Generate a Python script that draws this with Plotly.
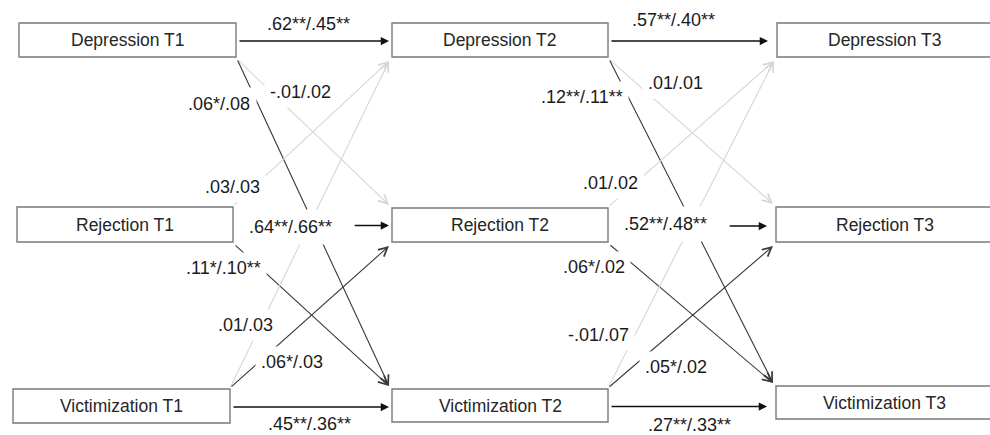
import plotly.graph_objects as go

# ---------------- data ----------------
node_names = ["Depression T1", "Rejection T1", "Victimization T1",
              "Depression T2", "Rejection T2", "Victimization T2",
              "Depression T3", "Rejection T3", "Victimization T3"]

path_source = ["Depression T1", "Rejection T1", "Victimization T1",
               "Depression T2", "Rejection T2", "Victimization T2",
               "Depression T1", "Depression T1", "Rejection T1",
               "Rejection T1", "Victimization T1", "Victimization T1",
               "Depression T2", "Depression T2", "Rejection T2",
               "Rejection T2", "Victimization T2", "Victimization T2"]
path_target = ["Depression T2", "Rejection T2", "Victimization T2",
               "Depression T3", "Rejection T3", "Victimization T3",
               "Rejection T2", "Victimization T2", "Depression T2",
               "Victimization T2", "Depression T2", "Rejection T2",
               "Rejection T3", "Victimization T3", "Depression T3",
               "Victimization T3", "Depression T3", "Rejection T3"]
path_labels = [".62**/.45**", ".64**/.66**", ".45**/.36**",
               ".57**/.40**", ".52**/.48**", ".27**/.33**",
               "-.01/.02", ".06*/.08", ".03/.03",
               ".11*/.10**", ".01/.03", ".06*/.03",
               ".01/.01", ".12**/.11**", ".01/.02",
               ".06*/.02", "-.01/.07", ".05*/.02"]

# ---------------- layout (pixel canvas) ----------------
W, H = 990, 435
BOX = {  # x0, y0, x1, y1
    "Depression T1": (19, 23, 236, 57),
    "Rejection T1": (17, 207, 233, 242),
    "Victimization T1": (13, 389, 230, 423),
    "Depression T2": (392, 23, 608, 57),
    "Rejection T2": (392, 208, 608, 242),
    "Victimization T2": (392, 389, 608, 422),
    "Depression T3": (777, 23, 993, 57),
    "Rejection T3": (776, 207, 993, 242),
    "Victimization T3": (776, 386, 993, 419),
}
ROW = {"Depression": 0, "Rejection": 1, "Victimization": 2}
LABEL_XY = [(308, 24), (290, 227), (309, 424),
            (673, 20), (665, 224), (689, 425),
            (300, 92), (219, 104), (232, 187),
            (223, 268), (245, 325), (292, 362),
            (675, 83), (582, 97), (610, 183),
            (594, 267), (598, 335), (676, 367)]
LABEL_PAD = [2, 7, 0, 2, 7, 0, 5, 6, 5, 5, 5, 5, 5, 5, 5, 5, 5, 5]
H_GAP = {"T2": 3, "T3": 9}

FONT = "Arial, Liberation Sans, sans-serif"
DARK = "#3a3a3a"
LIGHT = "#d6d6d6"

fig = go.Figure()
fig.add_trace(go.Scatter(x=[0, W], y=[0, H], mode="markers",
                         marker=dict(opacity=0), hoverinfo="skip", showlegend=False))

annotations = []
shapes = []

# arrows
for (src, tgt, lab), (lx, ly) in zip(zip(path_source, path_target, path_labels), LABEL_XY):
    sx0, sy0, sx1, sy1 = BOX[src]
    tx0, ty0, tx1, ty1 = BOX[tgt]
    rs, rt = ROW[src.split()[0]], ROW[tgt.split()[0]]
    if rs == rt:
        ym = (sy0 + sy1) / 2 + 1
        x_start = sx1 + 2
        if abs(ly - ym) < 8:  # label sits on the line: line starts after it
            x_start = max(x_start, lx + 4.2 * len(lab) + 17)
        start = (x_start, ym)
        end = (tx0 - H_GAP[tgt.split()[1]], ym)
        color, head, size, width = "#111111", 2, 1.1, 1.5
    else:
        if rt > rs:
            start = (sx1 + 1, sy1 + 2)
            end = (tx0 - 3, ty0 - 3)
        else:
            start = (sx1, sy0 - 1)
            end = (tx0 - 3, ty1 + 4)
        color = DARK if "*" in lab else LIGHT
        head, size, width = 5, 1.6, 1.1
    annotations.append(dict(
        x=end[0], y=end[1], ax=start[0], ay=start[1],
        xref="x", yref="y", axref="x", ayref="y",
        text="", showarrow=True, arrowhead=head, arrowsize=size,
        arrowwidth=width, arrowcolor=color, standoff=0, startstandoff=0))

# coefficient labels (white background masks the lines)
for (lx, ly), lab, pad in zip(LABEL_XY, path_labels, LABEL_PAD):
    annotations.append(dict(
        x=lx, y=ly, xref="x", yref="y", text=lab, showarrow=False,
        font=dict(family=FONT, size=18, color="#1a1a1a"),
        bgcolor="white", borderpad=pad, xanchor="center", yanchor="middle"))

# boxes
for name in node_names:
    x0, y0, x1, y1 = BOX[name]
    shapes.append(dict(type="rect", xref="x", yref="y", x0=x0, y0=y0, x1=x1, y1=y1,
                       line=dict(color="#7a7a7a", width=1.4), fillcolor="white",
                       layer="above"))
    annotations.append(dict(
        x=(x0 + x1) / 2, y=(y0 + y1) / 2,
        xref="x", yref="y", text=name, showarrow=False,
        font=dict(family=FONT, size=17.5, color="#262626"),
        xanchor="center", yanchor="middle"))

fig.update_layout(
    width=W, height=H, margin=dict(l=0, r=0, t=0, b=0),
    paper_bgcolor="white", plot_bgcolor="white",
    xaxis=dict(range=[0, W], visible=False, fixedrange=True),
    yaxis=dict(range=[H, 0], visible=False, fixedrange=True),
    shapes=shapes, annotations=annotations, showlegend=False,
)

fig.write_html("out.html", config={"displayModeBar": False},
               post_script="document.body.style.margin='0';document.body.style.overflow='hidden';")
